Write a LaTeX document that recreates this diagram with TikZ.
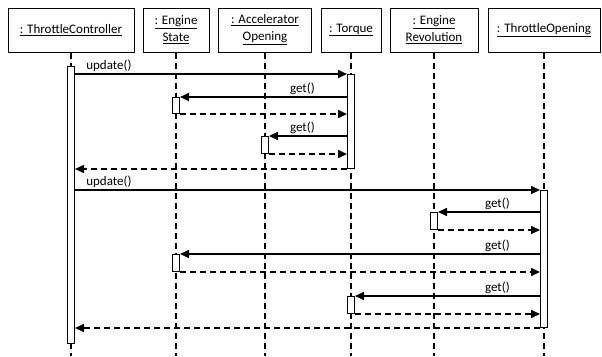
\documentclass[tikz,border=0pt]{standalone}
\usepackage{fontspec}
\setmainfont{Carlito}
\usetikzlibrary{arrows.meta}

\begin{document}
\begin{tikzpicture}[x=1pt,y=-1pt,
        obj/.style={draw,line width=1pt,minimum height=44pt,inner sep=0pt,
            align=center,font=\fontsize{13}{17}\selectfont},
        life/.style={line width=1.6pt,dash pattern=on 6pt off 4pt},
        act/.style={draw,fill=white,line width=1pt,minimum width=7pt,
            inner sep=0pt,anchor=north},
        call/.style={line width=1.6pt,-{Triangle[length=9pt,width=8pt]}},
        ret/.style={call,dash pattern=on 6pt off 4pt},
        lbl/.style={font=\fontsize{13}{15}\selectfont,inner sep=1.5pt}]
        \useasboundingbox (0,0) rectangle (602,356);
        \coordinate (bottom) at (0,356);

        % Draw the objects
        \node[obj,minimum width=126pt] (tc) at (71,30) {\underline{: ThrottleController}};
        \node[obj,minimum width=66pt] (es) at (176,30) {\underline{: Engine}\\\underline{State}};
        \node[obj,minimum width=93pt] (ao) at (265,30) {\underline{: Accelerator}\\\underline{Opening}};
        \node[obj,minimum width=60pt] (tq) at (351,30) {\underline{: Torque}};
        \node[obj,minimum width=88pt] (er) at (434,30) {\underline{: Engine}\\\underline{Revolution}};
        \node[obj,minimum width=112pt] (to) at (544,30) {\underline{: ThrottleOpening}};

        % draw the lifelines
        \foreach \o in {tc,es,ao,tq,er,to}
            \draw[life] (\o.south) -- (\o.south |- bottom);

        % activations
        \node[act,minimum height=277pt] (tcA) at (tc.south |- 0,66) {};
        \node[act,minimum height=94pt] (tqA1) at (tq.south |- 0,74) {};
        \node[act,minimum height=16pt] (esA1) at (es.south |- 0,97) {};
        \node[act,minimum height=17pt] (aoA) at (ao.south |- 0,136) {};
        \node[act,minimum height=137pt] (toA) at (to.south |- 0,190) {};
        \node[act,minimum height=17pt] (erA) at (er.south |- 0,212) {};
        \node[act,minimum height=17pt] (esA2) at (es.south |- 0,254) {};
        \node[act,minimum height=17pt] (tqA2) at (tq.south |- 0,296) {};

        % first update()
        \draw[call] (tcA.east |- tqA1.north) -- node[lbl,pos=0,anchor=south west,xshift=9pt] {update()} (tqA1.north west);
        \draw[call] (tqA1.west |- esA1.north) -- node[lbl,pos=0,anchor=south east,xshift=-30pt] {get()} (esA1.north east);
        \draw[ret] (esA1.south east) -- (tqA1.west |- esA1.south);
        \draw[call] (tqA1.west |- aoA.north) -- node[lbl,pos=0,anchor=south east,xshift=-30pt] {get()} (aoA.north east);
        \draw[ret] (aoA.south east) -- (tqA1.west |- aoA.south);
        \draw[ret] (tqA1.south west) -- (tcA.east |- tqA1.south);

        % second update()
        \draw[call] (tcA.east |- toA.north) -- node[lbl,pos=0,anchor=south west,xshift=9pt] {update()} (toA.north west);
        \draw[call] (toA.west |- erA.north) -- node[lbl,pos=0,anchor=south east,xshift=-28pt] {get()} (erA.north east);
        \draw[ret] (erA.south east) -- (toA.west |- erA.south);
        \draw[call] (toA.west |- esA2.north) -- node[lbl,pos=0,anchor=south east,xshift=-28pt] {get()} (esA2.north east);
        \draw[ret] (esA2.south east) -- (toA.west |- esA2.south);
        \draw[call] (toA.west |- tqA2.north) -- node[lbl,pos=0,anchor=south east,xshift=-28pt] {get()} (tqA2.north east);
        \draw[ret] (tqA2.south east) -- (toA.west |- tqA2.south);
        \draw[ret] (toA.south west) -- (tcA.east |- toA.south);
    \end{tikzpicture}
\end{document}
